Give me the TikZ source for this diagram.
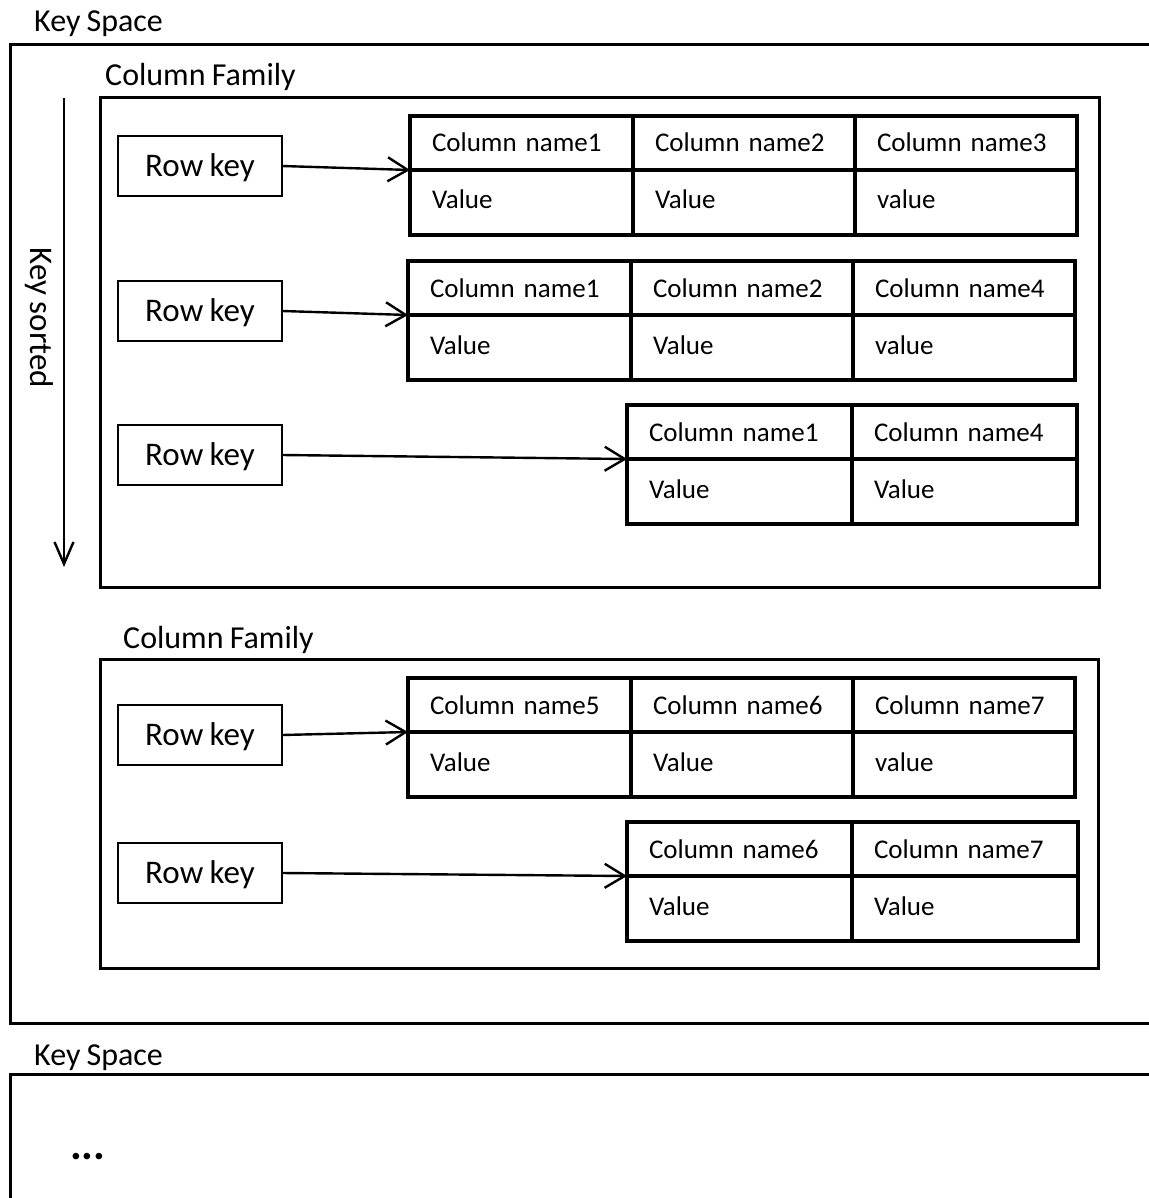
\documentclass[tikz,border=0pt]{standalone}
\usepackage{fontspec}
\setmainfont[WordSpace=0.85]{Carlito}
\usetikzlibrary{arrows.meta}

% one key/value column: header cell on top, value cell below
% #1 name, #2 x, #3 y, #4 cell width, #5 text width, #6 header, #7 value
\newcommand\kvcell[7]{%
  \node[hcell, minimum width=#4pt, text width=#5pt] (#1h) at (#2,#3) {#6};
  \node[vcell, minimum width=#4pt, text width=#5pt] (#1v) at (#1h.south west) {#7};
}

\begin{document}
\begin{tikzpicture}[x=1pt, y=-1pt,
  frame/.style={line width=3pt, line cap=rect},
  cfbox/.style={draw, line width=3pt, anchor=north west, inner sep=0pt, outer sep=0pt},
  biglabel/.style={font=\fontsize{32}{38}\selectfont, inner sep=0pt, anchor=base west},
  rowkey/.style={draw, line width=2.6pt, anchor=north west, inner sep=0pt, outer sep=0pt,
    minimum width=164pt, minimum height=60pt,
    text height=21pt, text depth=0pt, font=\fontsize{33}{40}\selectfont},
  hcell/.style={draw, line width=4pt, anchor=north west, align=left, outer sep=0pt,
    inner xsep=22pt, inner ysep=0pt, minimum height=54pt,
    text height=18pt, text depth=-1pt, font=\fontsize{27}{32}\selectfont},
  vcell/.style={hcell, minimum height=65pt, text height=18pt, text depth=5pt},
  conn/.style={line width=2.4pt, -{Straight Barb[length=20pt, width=24pt, line width=2.4pt]}},
  sortarrow/.style={line width=2.4pt, -{Straight Barb[length=22pt, width=19pt, line width=2.4pt]}}
]
\useasboundingbox (0,0) rectangle (1148,1198);

% ---- first key space ----
\node[biglabel] (ks1) at (34,32) {Key Space};
\draw[frame] (1150,45) -- (10,45) -- (10,1023) -- (1150,1023);

% sort order arrow
\coordinate (sortTop) at (64,98);
\coordinate (sortEnd) at (64,567);
\draw[sortarrow] (sortTop) -- (sortEnd);
\node[rotate=-90, font=\fontsize{33}{40}\selectfont, inner sep=0pt] (sorted) at (39,318) {Key sorted};

% ---- first column family ----
\node[biglabel] (cf1lab) at (105,86) {Column Family};
\node[cfbox, minimum width=999pt, minimum height=489pt] (cf1) at (100,98) {};

\node[rowkey] (rk1) at (118,136) {Row key};
\kvcell{t1a}{410}{116}{223}{179}{Column name1}{Value}
\kvcell{t1b}{633}{116}{222}{178}{Column name2}{Value}
\kvcell{t1c}{855}{116}{222}{178}{Column name3}{value}
\draw[conn] (rk1.east) -- (t1ah.south west);

\node[rowkey] (rk2) at (118,281) {Row key};
\kvcell{t2a}{408}{261}{223}{179}{Column name1}{Value}
\kvcell{t2b}{631}{261}{222}{178}{Column name2}{Value}
\kvcell{t2c}{853}{261}{222}{178}{Column name4}{value}
\draw[conn] (rk2.east) -- (t2ah.south west);

\node[rowkey] (rk3) at (118,425) {Row key};
\kvcell{t3a}{627}{405}{225}{181}{Column name1}{Value}
\kvcell{t3b}{852}{405}{225}{181}{Column name4}{Value}
\draw[conn] (rk3.east) -- (t3ah.south west);

% ---- second column family ----
\node[biglabel] (cf2lab) at (123,648) {Column Family};
\node[cfbox, minimum width=998pt, minimum height=309pt] (cf2) at (100,659) {};

\node[rowkey] (rk4) at (118,705) {Row key};
\kvcell{t4a}{408}{678}{223}{179}{Column name5}{Value}
\kvcell{t4b}{631}{678}{222}{178}{Column name6}{Value}
\kvcell{t4c}{853}{678}{222}{178}{Column name7}{value}
\draw[conn] (rk4.east) -- (t4ah.south west);

\node[rowkey] (rk5) at (118,843) {Row key};
\kvcell{t5a}{627}{822}{225}{181}{Column name6}{Value}
\kvcell{t5b}{852}{822}{226}{182}{Column name7}{Value}
\draw[conn] (rk5.east) -- (t5ah.south west);

% ---- second key space ----
\node[biglabel] (ks2) at (34,1065) {Key Space};
\draw[frame] (1150,1074) -- (10,1074) -- (10,1200);
\node[font=\fontsize{44}{50}\selectfont\bfseries, inner sep=0pt, anchor=base west] (more) at (70,1159) {...};
\end{tikzpicture}
\end{document}
